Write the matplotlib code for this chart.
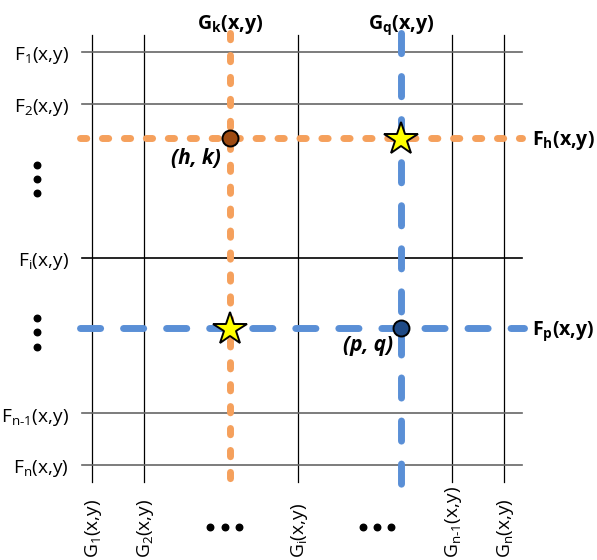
import matplotlib
matplotlib.use('Agg')
import matplotlib.pyplot as plt

plt.rcParams['font.family'] = ['Open Sans', 'DejaVu Sans']
plt.rcParams['mathtext.fontset'] = 'custom'
plt.rcParams['mathtext.rm'] = 'Open Sans'
plt.rcParams['mathtext.it'] = 'Open Sans:italic'
plt.rcParams['mathtext.bf'] = 'Open Sans:bold'
plt.rcParams['mathtext.default'] = 'rm'
plt.rcParams['lines.scale_dashes'] = False

# grid lines (pixel-like coords of the drawing)
g_x = [92, 144, 298, 452, 504]
g_labels = [r'G$_1$(x,y)', r'G$_2$(x,y)', r'G$_\mathrm{i}$(x,y)',
            r'G$_\mathrm{n‐1}$(x,y)', r'G$_\mathrm{n}$(x,y)']
f_y = [51.5, 103.5, 258, 413, 464.5]
f_labels = [r'F$_1$(x,y)', r'F$_2$(x,y)', r'F$_\mathrm{i}$(x,y)',
            r'F$_\mathrm{n‐1}$(x,y)', r'F$_\mathrm{n}$(x,y)']
f_colors = ['#666666', '#666666', '#000000', '#666666', '#666666']

# highlighted functions
gk_x, fh_y = 230, 137.5      # orange
gq_x, fp_y = 400.5, 327.5    # blue

# ellipsis dots
vdots_x = [37, 37, 37, 37, 37, 37]
vdots_y = [165, 179, 193, 318, 332, 347]
hdots_x = [210, 225, 239, 363, 377, 391]
hdots_y = [527, 527, 527, 527, 527, 527]

orange = '#F5A05C'
blue = '#5A8FD6'

fig = plt.figure(figsize=(5.97, 5.60), dpi=100)
ax = fig.add_axes([0, 0, 1, 1])
ax.set_xlim(0, 597)
ax.set_ylim(560, 0)
ax.axis('off')

# thin grid
for x in g_x:
    ax.plot([x, x], [35, 482], color='black', lw=0.9, zorder=1)
for y, c in zip(f_y, f_colors):
    ax.plot([82, 522], [y, y], color=c, lw=1.2, zorder=1)

# labels
for y, lab in zip(f_y, f_labels):
    ax.text(69, y + 8.5, lab, fontsize=13.8, ha='right', va='baseline')
for x, lab in zip(g_x, g_labels):
    ax.text(x + 1, 558.5, lab, fontsize=13.8, rotation=90, ha='center', va='bottom')

# orange dotted lines
ax.plot([80, 522], [fh_y, fh_y], color=orange, lw=5, dashes=(4.5, 11.3),
        dash_capstyle='round', zorder=2)
ax.plot([gk_x, gk_x], [33, 484], color=orange, lw=5, dashes=(4.5, 11.3),
        dash_capstyle='round', zorder=2)
# blue dashed lines
ax.plot([80, 524], [fp_y, fp_y], color=blue, lw=5, dashes=(14.5, 16.5),
        dash_capstyle='round', zorder=2)
ax.plot([gq_x, gq_x], [33, 484], color=blue, lw=5, dashes=(14.5, 16.5),
        dash_capstyle='round', zorder=2)

# bold function labels
ax.text(gk_x, 28.5, r'$\mathbf{G_k}$(x,y)', fontsize=14.2, fontweight='bold',
        ha='center', va='baseline')
ax.text(gq_x + 1, 28.5, r'$\mathbf{G_q}$(x,y)', fontsize=14.2, fontweight='bold',
        ha='center', va='baseline')
ax.text(532, fh_y + 8, r'$\mathbf{F_h}$(x,y)', fontsize=14, fontweight='bold',
        ha='left', va='baseline')
ax.text(532, fp_y + 7, r'$\mathbf{F_p}$(x,y)', fontsize=14, fontweight='bold',
        ha='left', va='baseline')

# points
ax.plot(gk_x, fh_y, 'o', ms=11.5, mfc='#9E4B12', mec='black', mew=1.4, zorder=5)
ax.plot(gq_x, fp_y, 'o', ms=11.5, mfc='#1F4A86', mec='black', mew=1.4, zorder=5)
ax.plot(gq_x, fh_y + 1, '*', ms=25, mfc='#FFFF00', mec='black', mew=1.4, zorder=5)
ax.plot(gk_x, fp_y + 1, '*', ms=25, mfc='#FFFF00', mec='black', mew=1.4, zorder=5)

ax.text(221, 164, '(h, k)', fontsize=15, fontweight='bold', fontstyle='italic',
        ha='right', va='baseline')
ax.text(393, 351, '(p, q)', fontsize=15, fontweight='bold', fontstyle='italic',
        ha='right', va='baseline')

# ellipsis
ax.scatter(vdots_x, vdots_y, s=22, color='black', zorder=3)
ax.scatter(hdots_x, hdots_y, s=22, color='black', zorder=3)

fig.savefig('out.png', dpi=100)
